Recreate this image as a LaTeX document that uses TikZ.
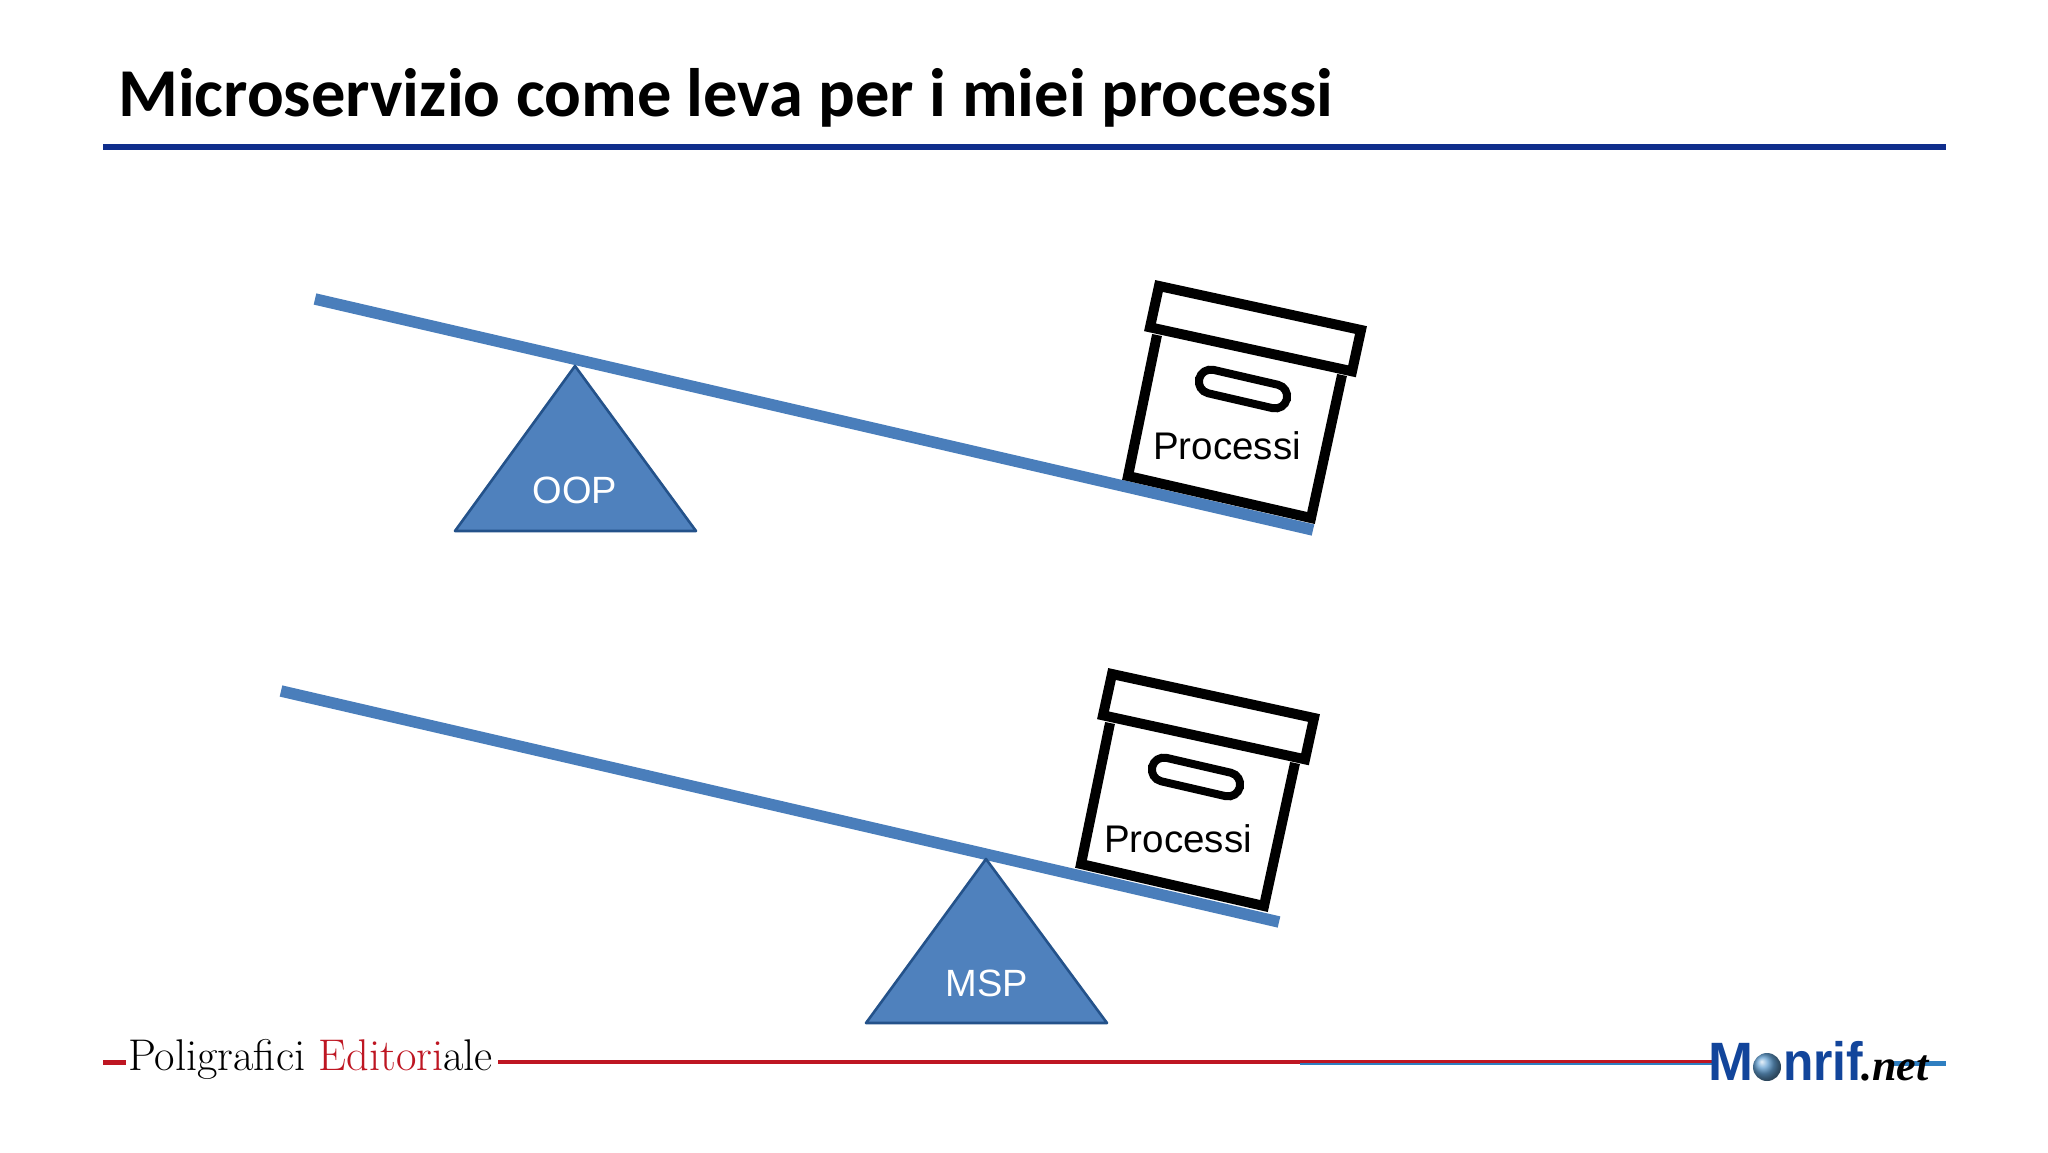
\documentclass[tikz,border=0pt]{standalone}
\usepackage{fontspec}
\setmainfont{Liberation Sans}
\newfontfamily\titlefont{Carlito}
\newfontfamily\logoserif{Latin Modern Roman}
\newfontfamily\netfont{Liberation Serif}
\definecolor{barblue}{HTML}{4A7EBB}
\definecolor{trifill}{HTML}{4F81BD}
\definecolor{triedge}{HTML}{24528A}
\definecolor{ruleblue}{HTML}{0F2E8C}
\definecolor{logored}{HTML}{BE1622}
\definecolor{monblue}{HTML}{12459B}
\definecolor{lineblue}{HTML}{2F7FC1}
\tikzset{
  lever/.style={draw=barblue,line width=11.5pt,line cap=butt},
  fulcrum/.style={draw=triedge,fill=trifill,line width=2.6pt,line join=round},
  fulcrumtext/.style={text=white,font=\fontsize{38}{38}\selectfont,inner sep=0pt},
  boxtext/.style={text=black,font=\fontsize{38.5}{38.5}\selectfont,inner sep=0pt,anchor=base},
  boxline/.style={draw=black,line width=10pt,line join=miter,fill=white},
  handle/.style={draw=black,line width=8pt,fill=white,rounded corners=12pt},
  pics/archive/.style={code={
    \path[boxline] (1157,335) -- (1128,476) -- (1311,518) -- (1342,375);
    \path[boxline] (1159,286) -- (1361,330) -- (1352,371.3) -- (1150,327.3) -- cycle;
    \begin{scope}[shift={(1243,389)},rotate=-13]
      \path[handle] (-45,-12) rectangle (45,12);
    \end{scope}
  }}
}
\begin{document}
\begin{tikzpicture}[x=1pt,y=-1pt]
\useasboundingbox (0,0) rectangle (2048,1152);
\fill[white] (0,0) rectangle (2048,1152);

% title
\node[anchor=base west,inner sep=0pt,font=\titlefont\bfseries\fontsize{68.5}{68.5}\selectfont] (title) at (118,116) {Microservizio come leva per i miei processi};
\coordinate (ruleL) at (103,147);
\coordinate (ruleR) at (1946,147);
\draw[ruleblue,line width=5.5pt] (ruleL) -- (ruleR);

% upper lever
\coordinate (l1a) at (315,299);
\coordinate (l1b) at (1313,530);
\draw[lever] (l1a) -- (l1b);
\coordinate (t1a) at (575,366);
\coordinate (t1b) at (696,531);
\coordinate (t1c) at (455,531);
\path[fulcrum] (t1a) -- (t1b) -- (t1c) -- cycle;
\node[fulcrumtext] (oop) at (575,490) {OOP};
\pic {archive};
\node[boxtext] (proc1) at (1227,459) {Processi};

% lower lever
\coordinate (l2a) at (281,691);
\coordinate (l2b) at (1279,922);
\draw[lever] (l2a) -- (l2b);
\coordinate (t2a) at (986,859);
\coordinate (t2b) at (1107,1023);
\coordinate (t2c) at (866,1023);
\path[fulcrum] (t2a) -- (t2b) -- (t2c) -- cycle;
\node[fulcrumtext] (msp) at (987,983) {MSP};
\begin{scope}[shift={(-47,388)}]
\pic {archive};
\end{scope}
\node[boxtext] (proc2) at (1178,852) {Processi};

% footer
\coordinate (fa) at (103,1062);
\coordinate (fb) at (126,1062);
\coordinate (fc) at (498,1062);
\coordinate (fd) at (1712,1062);
\coordinate (fe) at (1890,1063);
\coordinate (ff) at (1946,1063);
\draw[lineblue,line width=2pt] (1300,1064) -- (1712,1064);
\draw[logored,line width=5pt] (fa) -- (fb);
\draw[logored,line width=4pt] (fc) -- (1300,1062);
\draw[logored,line width=2.5pt] (1300,1061.5) -- (1712,1061.5);
\draw[lineblue,line width=5pt] (fe) -- (ff);
\node[anchor=base west,inner sep=0pt,font=\logoserif\fontsize{44.4}{44.4}\selectfont] (poli) at (128,1070) {Poligrafici \textcolor{logored}{Editori}ale};

\node[anchor=base west,inner sep=0pt,text=monblue,font=\bfseries\fontsize{54}{54}\selectfont] (monM) at (1708,1080) {M};
\shade[ball color=lineblue!75] (1767,1067) circle (14);
\node[anchor=base west,inner sep=0pt,text=monblue,font=\bfseries\fontsize{54}{54}\selectfont] (monrif) at (1783,1080) {\scalebox{0.92}[1]{nrif}};
\node[anchor=base west,inner sep=0pt,text=black,font=\netfont\bfseries\itshape\fontsize{44}{44}\selectfont] (net) at (1861,1080) {.net};
\end{tikzpicture}
\end{document}
